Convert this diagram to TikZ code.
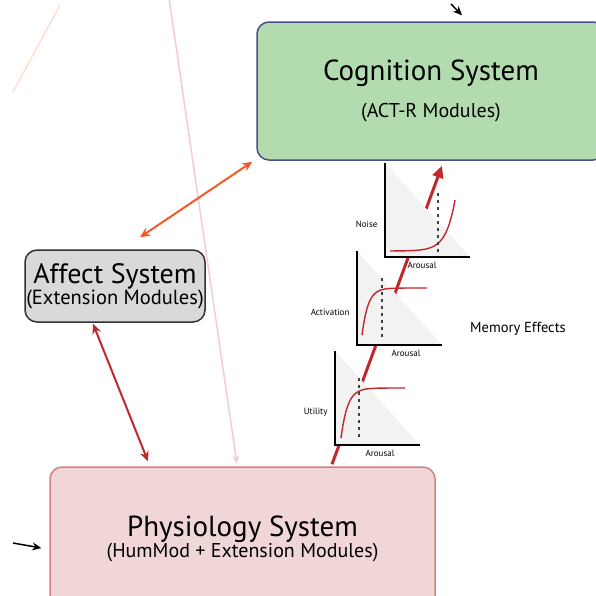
\documentclass[tikz,border=0pt]{standalone}
\usepackage{fontspec}
\setmainfont{PT Sans}
\usetikzlibrary{arrows.meta}
\definecolor{cogfill}{HTML}{B3DBB0}
\definecolor{cogline}{HTML}{4D4D8C}
\definecolor{afffill}{HTML}{D9D9D9}
\definecolor{physfill}{HTML}{F0D6D6}
\definecolor{physline}{HTML}{D27F86}
\definecolor{arrred}{HTML}{C1272D}
\definecolor{arrorange}{HTML}{F15A29}
\definecolor{faintpink}{HTML}{F5CCD2}
\definecolor{faintpeach}{HTML}{FBD9CC}
\definecolor{tri}{HTML}{F1F2F1}
\tikzset{
  sysbox/.style={rounded corners=12pt,line width=1.5pt,align=center,inner sep=0pt},
  link/.style={line width=2pt,{Stealth[length=10pt,width=9pt]}-{Stealth[length=10pt,width=9pt]}},
  axis/.style={line width=1.8pt},
  curve/.style={arrred,line width=1.4pt},
  mark line/.style={black!75,line width=1.2pt,dash pattern=on 3pt off 4pt},
  lab/.style={font=\fontsize{9}{10}\selectfont}
}
\begin{document}
\begin{tikzpicture}[x=1pt,y=-1pt]
\pgfmathsetmacro{\gw}{85}
\pgfmathsetmacro{\gh}{94}
\useasboundingbox (0,0) rectangle (596,595);
\clip (0,0) rectangle (596,595);
%
\node[sysbox,fill=cogfill,draw=cogline,minimum width=348pt,minimum height=138pt] (cog) at (431,91)
  {\fontsize{29}{30}\selectfont Cognition System\\[15pt]\fontsize{20}{20}\selectfont (ACT-R Modules)};
\node[sysbox,fill=afffill,draw=black!80,minimum width=180pt,minimum height=72pt] (aff) at (115,286)
  {\fontsize{28}{26}\selectfont Affect System\\[0pt]\fontsize{20.5}{22}\selectfont (Extension Modules)};
\node[sysbox,fill=physfill,draw=physline,minimum width=385pt,minimum height=144pt] (phys) at (242.5,539)
  {\fontsize{29}{30}\selectfont Physiology System\\[0pt]\fontsize{20}{22}\selectfont (HumMod + Extension Modules)};
%
\coordinate (p1) at (60,5);
\coordinate (p2) at (13,92);
\draw[faintpeach,line width=1.2pt] (p1)--(p2);
\coordinate (top) at (169,-2);
\draw[faintpink,line width=1.5pt,-{Stealth[length=9pt,width=7pt]}] (top)--([xshift=-5.5pt,yshift=2pt]phys.north);
\draw[link,arrorange] ([xshift=25pt,yshift=12pt]aff.north)--([xshift=-4pt,yshift=-1pt]cog.south west);
\draw[link,arrred] ([xshift=-22pt,yshift=-1pt]aff.south)--([xshift=-94.5pt,yshift=5pt]phys.north);
\coordinate (t1) at (451,4);
\draw[line width=1.5pt,-{Stealth[length=9pt,width=8pt]}] (t1)--([xshift=31pt,yshift=6pt]cog.north);
\coordinate (l1) at (13,543);
\draw[line width=1.5pt,-{Stealth[length=9pt,width=8pt]}] (l1)--([xshift=-8pt,yshift=-9pt]phys.west);
\draw[arrred,line width=3pt,-{Triangle[length=12pt,width=11pt]}] ([xshift=89.5pt,yshift=2pt]phys.north)--([xshift=11pt,yshift=-5pt]cog.south);
%
\foreach \ox/\oy/\nm/\ax in {385/257/Noise/37,357/345/Activation/49,335/445/Utility/45}{
\begin{scope}[shift={(\ox,\oy)}]
\fill[tri](0,0)--(0,-\gh)--(\gw,0)--cycle;
\node[lab,anchor=east] at (-4,-33) {\nm};
\node[lab] at (\ax,8) {Arousal};
\end{scope}}
%
\begin{scope}[shift={(385,257)}]
\draw[curve,domain=5:70,samples=40] plot (\x,{-6-51*exp((\x-70)/9)});
\draw[mark line](53,-64)--(53,0);
\end{scope}
\begin{scope}[shift={(357,345)}]
\draw[curve,domain=5:70,samples=40] plot (\x,{-10-47*(1-exp(-(\x-5)/6))});
\draw[mark line](25,-67)--(25,-5);
\end{scope}
\begin{scope}[shift={(335,445)}]
\draw[curve,domain=6:70,samples=40] plot (\x,{-7-50*(1-exp(-(\x-6)/6.5))});
\draw[mark line](24,-67)--(24,-5);
\end{scope}
%
\foreach \ox/\oy in {385/257,357/345,335/445}{
\draw[axis](\ox,\oy-\gh)--(\ox,\oy)--(\ox+\gw,\oy);}
%
\node[font=\fontsize{14.5}{16}\selectfont] (mem) at (518,329) {Memory Effects};
\end{tikzpicture}
\end{document}
